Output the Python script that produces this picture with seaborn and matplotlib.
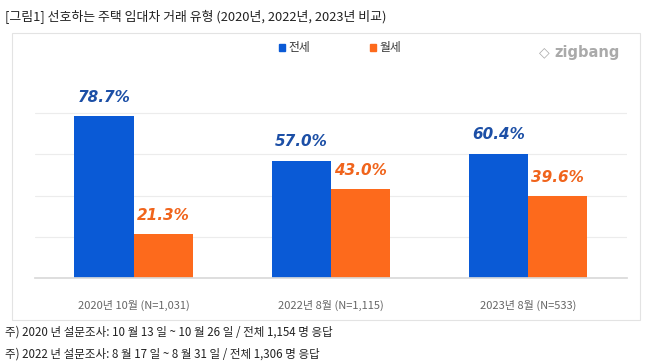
import matplotlib
matplotlib.use("Agg")
import matplotlib.pyplot as plt
import seaborn as sns
import pandas as pd
from matplotlib.patches import Rectangle

categories = ["2020년 10월 (N=1,031)", "2022년 8월 (N=1,115)", "2023년 8월 (N=533)"]
series_names = ["전세", "월세"]
jeonse = [78.7, 57.0, 60.4]
wolse = [21.3, 43.0, 39.6]

sns.set_theme(style="white")
plt.rcParams['font.family'] = ['Noto Sans CJK KR', 'DejaVu Sans']

df = pd.DataFrame({
    "cat": categories * 2,
    "type": [series_names[0]] * 3 + [series_names[1]] * 3,
    "val": jeonse + wolse,
})

blue = "#0a5ad6"
orange = "#fd6a1c"

fig = plt.figure(figsize=(6.58, 3.64), dpi=100)
fig.patch.set_facecolor("white")
ax = fig.add_axes([35/658, 1-278/364, (626.5-35)/658, (278-72)/364])

sns.barplot(data=df, x="cat", y="val", hue="type", palette=[blue, orange],
            width=0.6, saturation=1, legend=False, ax=ax, order=categories,
            hue_order=series_names, linewidth=0)

ax.set_xlim(-0.5, 2.5)
ax.set_ylim(0, 100)
ax.set_yticks([20, 40, 60, 80])
ax.yaxis.grid(True, color="#ececec", linewidth=0.8)
ax.set_axisbelow(True)
ax.tick_params(axis="y", left=False, labelleft=False)
ax.tick_params(axis="x", bottom=False, pad=10, labelsize=8, labelcolor="#666666")
ax.set_xlabel("")
ax.set_ylabel("")
for s in ["top", "right", "left"]:
    ax.spines[s].set_visible(False)
ax.spines["bottom"].set_color("#d9d9d9")

label_colors = ["#1c4fa6", "#f0641c"]
for cont, lc in zip(ax.containers, label_colors):
    ax.bar_label(cont, labels=[f"{b.get_height():.1f}%" for b in cont], padding=8,
                 fontsize=11, fontweight="bold", fontstyle="italic", color=lc,
                 family=["DejaVu Sans"])

# chart box
fig.patches.append(Rectangle((12/658, 1-320/364), (640-12)/658, (320-33)/364,
                             transform=fig.transFigure, fill=False,
                             edgecolor="#e3e3e3", linewidth=0.8))

# legend
for x, c, name in [(282, blue, series_names[0]), (373, orange, series_names[1])]:
    fig.patches.append(Rectangle(((x-3)/658, 1-50.5/364), 6/658, 6/364,
                                 transform=fig.transFigure, color=c))
    fig.text((x+6)/658, 1-47.5/364, name, fontsize=8.5, color="#333333",
             va="center", ha="left")

# logo
fig.text(554/658, 1-52/364, "zigbang", fontsize=10.5, color="#aaaaaa",
         va="center", ha="left", fontweight="bold", family=["DejaVu Sans"])
fig.text(544/658, 1-52/364, "◇", fontsize=10, color="#aaaaaa",
         va="center", ha="center", family=["DejaVu Sans"])

# title and notes
fig.text(5/658, 1-17/364, "[그림1] 선호하는 주택 임대차 거래 유형 (2020년, 2022년, 2023년 비교)",
         fontsize=9.3, color="#222222", va="center", ha="left")
fig.text(5/658, 1-332/364, "주) 2020 년 설문조사: 10 월 13 일 ~ 10 월 26 일 / 전체 1,154 명 응답",
         fontsize=8.3, color="#222222", va="center", ha="left")
fig.text(5/658, 1-354/364, "주) 2022 년 설문조사: 8 월 17 일 ~ 8 월 31 일 / 전체 1,306 명 응답",
         fontsize=8.3, color="#222222", va="center", ha="left")

fig.savefig("out.png", dpi=100)
